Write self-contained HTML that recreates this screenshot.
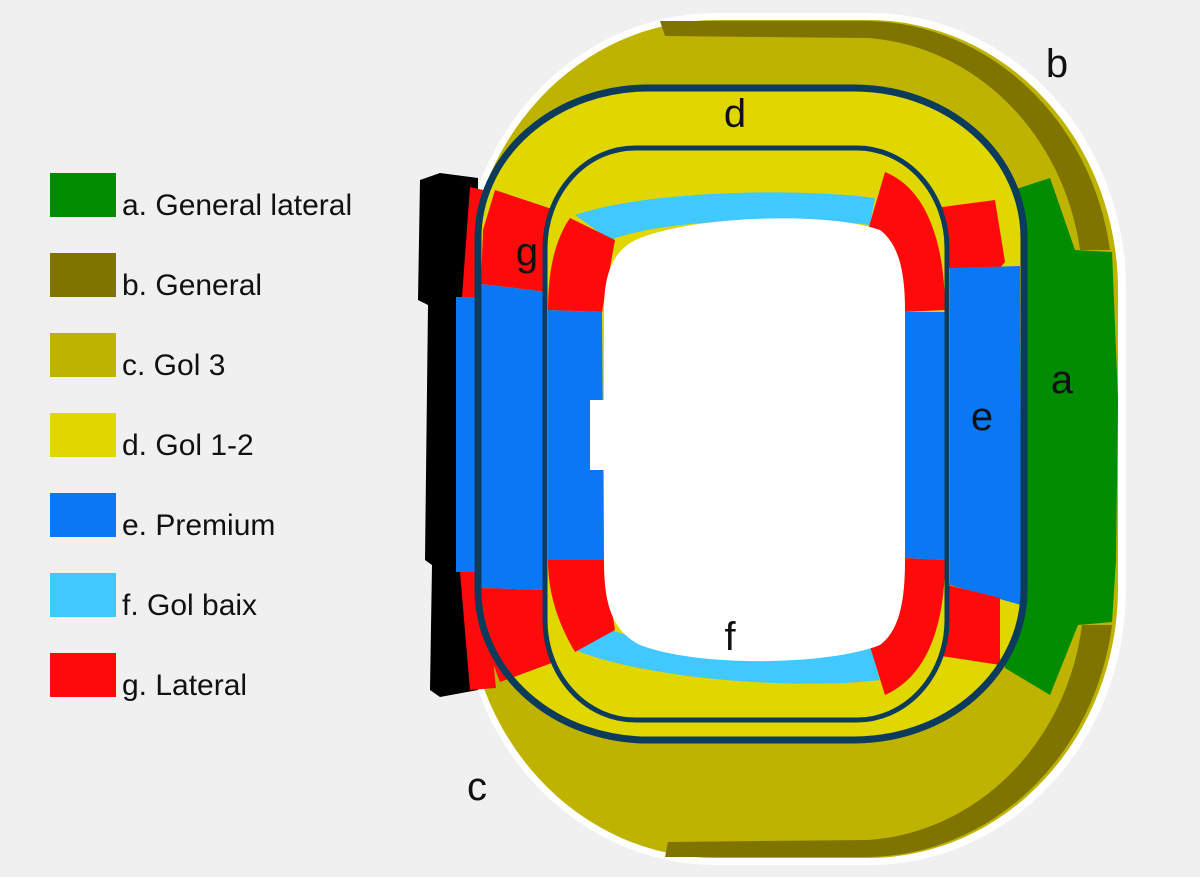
<!DOCTYPE html>
<html><head><meta charset="utf-8"><style>
html,body{margin:0;padding:0;background:#f0f0f0;}
svg{display:block;font-family:"Liberation Sans","DejaVu Sans",sans-serif;}
</style></head><body>
<svg width="1200" height="877" viewBox="0 0 1200 877">
<rect x="0" y="0" width="1200" height="877" fill="#f0f0f0"/>
<g font-size="30" fill="#111">
 <g><rect x="50" y="173" width="66" height="44" fill="#008c00"/><text x="122" y="215">a. General lateral</text></g>
 <g><rect x="50" y="253" width="66" height="44" fill="#7f7400"/><text x="122" y="295">b. General</text></g>
 <g><rect x="50" y="333" width="66" height="44" fill="#bdb300"/><text x="122" y="375">c. Gol 3</text></g>
 <g><rect x="50" y="413" width="66" height="44" fill="#e0d600"/><text x="122" y="455">d. Gol 1-2</text></g>
 <g><rect x="50" y="493" width="66" height="44" fill="#0a78f5"/><text x="122" y="535">e. Premium</text></g>
 <g><rect x="50" y="573" width="66" height="44" fill="#40c8ff"/><text x="122" y="615">f. Gol baix</text></g>
 <g><rect x="50" y="653" width="66" height="44" fill="#ff0a0a"/><text x="122" y="695">g. Lateral</text></g>
</g>
<g>
 <rect x="460" y="13" width="666" height="852" rx="256" ry="276" fill="#ffffff"/>
 <rect x="466" y="20" width="652" height="838" rx="250" ry="270" fill="#bdb300"/>
 <path d="M998,195 L1050,178 L1075,250 L1112,252 L1118,400 L1116,560 L1112,622 L1078,625 L1050,695 L1005,668 Z" fill="#008c00"/>
 <path d="M660,21 L868,21 A249,269 0 0 1 1110,250 L1080,250 A230,250 0 0 0 868,38 L665,36 Z" fill="#7f7400"/>
 <path d="M1112,625 A249,269 0 0 1 868,857 L665,857 L668,842 L868,840 A230,250 0 0 0 1082,625 Z" fill="#7f7400"/>
 <path d="M440,173 L478,178 L478,690 L440,697 L430,690 L432,565 L425,560 L428,305 L418,300 L420,180 Z" fill="#000"/>
 <path d="M470,187 L492,192 L486,297 L462,297 Z" fill="#ff0a0a"/>
 <path d="M456,297 L484,297 L484,572 L456,572 Z" fill="#0a78f5"/>
 <path d="M460,572 L484,572 L496,688 L470,690 Z" fill="#ff0a0a"/>
 <rect x="478" y="88" width="546" height="652" rx="170" ry="150" fill="#e0d600"/>
 <path d="M495,190 L555,210 L548,292 L481,284 L483,230 Z" fill="#ff0a0a"/>
 <path d="M481,284 L548,292 L545,590 L481,588 Z" fill="#0a78f5"/>
 <path d="M481,588 L545,590 L560,660 L500,682 L484,640 Z" fill="#ff0a0a"/>
 <path d="M935,208 L995,200 L1005,262 L1000,268 L945,268 Z" fill="#ff0a0a"/>
 <path d="M950,268 L1020,266 L1021,605 L950,585 Z" fill="#0a78f5"/>
 <path d="M948,585 L1000,598 L1000,665 L935,655 Z" fill="#ff0a0a"/>
 <rect x="478" y="88" width="546" height="652" rx="170" ry="150" fill="none" stroke="#0d3b5c" stroke-width="7"/>
 <rect x="545" y="148" width="402" height="572" rx="90" ry="100" fill="#e0d600"/>
 <path d="M575,215 C650,190 800,188 875,198 L870,225 C790,215 660,220 610,240 Z" fill="#40c8ff"/>
 <path d="M575,650 C650,680 800,690 880,680 L870,645 C790,655 660,650 612,630 Z" fill="#40c8ff"/>
 <path d="M570,218 L615,240 L602,312 L548,310 C548,270 555,240 570,218 Z" fill="#ff0a0a"/>
 <path d="M548,310 L602,312 L604,560 L548,560 Z" fill="#0a78f5"/>
 <path d="M548,560 L604,560 L615,630 L575,652 C556,620 548,590 548,560 Z" fill="#ff0a0a"/>
 <path d="M885,172 C930,190 945,250 945,310 L902,312 L900,265 L868,230 Z" fill="#ff0a0a"/>
 <path d="M902,312 L945,312 L945,560 L902,558 Z" fill="#0a78f5"/>
 <path d="M902,558 L945,560 C945,620 930,675 885,695 L868,640 L900,600 Z" fill="#ff0a0a"/>
 <rect x="545" y="148" width="402" height="572" rx="90" ry="100" fill="none" stroke="#0d3b5c" stroke-width="5"/>
 <path d="M640,238 C700,215 830,212 880,230 C900,245 905,275 905,310 L905,560 C905,600 900,630 880,645 C830,665 700,668 640,645 C610,630 604,600 604,560 L604,470 L590,470 L590,400 L604,400 L604,310 C604,270 615,248 640,238 Z" fill="#ffffff"/>
</g>
<g font-size="40" fill="#111" text-anchor="middle">
 <text x="1057" y="77">b</text>
 <text x="735" y="127">d</text>
 <text x="527" y="265">g</text>
 <text x="1062" y="393">a</text>
 <text x="982" y="430">e</text>
 <text x="730" y="650">f</text>
 <text x="477" y="800">c</text>
</g>
</svg>
</body></html>
